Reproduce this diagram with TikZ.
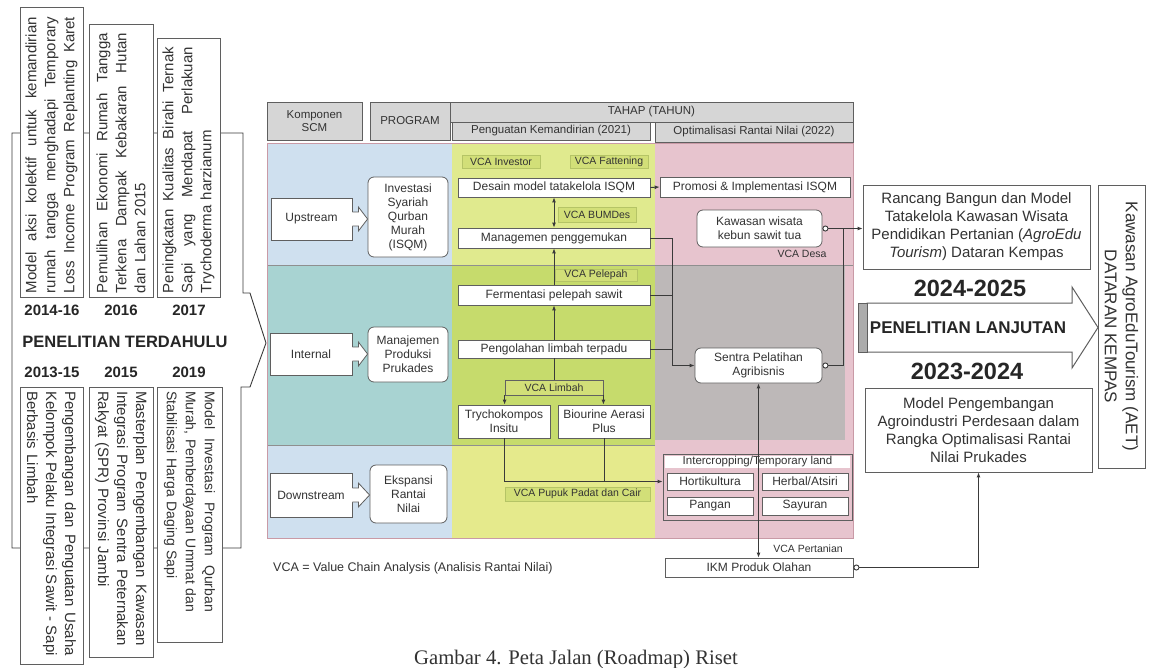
\documentclass[tikz,border=0pt]{standalone}
\usepackage{fontspec}
\setmainfont{Liberation Sans}
\newfontfamily\capfont{Liberation Serif}
\usetikzlibrary{arrows.meta,calc}
\definecolor{txt}{HTML}{333333}
\definecolor{bord}{HTML}{5F5F5F}
\definecolor{lin}{HTML}{3A3A3A}
\definecolor{hdr}{HTML}{D6D6D6}
\definecolor{lblue}{HTML}{CFE0EF}
\definecolor{tealc}{HTML}{A8D3D2}
\definecolor{gA}{HTML}{E0EA8E}
\definecolor{gB}{HTML}{C6DB6C}
\definecolor{gC}{HTML}{E5EA8C}
\definecolor{pinkc}{HTML}{E7C4CE}
\definecolor{grayc}{HTML}{BDB8B8}
\definecolor{lab}{HTML}{D2DF78}
\definecolor{labd}{HTML}{B5C466}
\definecolor{tbord}{HTML}{C99AA6}
\newcommand\jline[2]{\makebox[#1][s]{\spaceskip=0pt\xspaceskip=0pt\relax #2}}
\newcommand\lline[2]{\makebox[#1][l]{#2}}
\newcommand\myblockarrow[2]{%
  \fill[white] ($(#1.east)+(-1.5,-7)$) -- ($(#1.east)+(6,-7)$) -- ($(#1.east)+(6,-12)$) -- (#2.west |- #1.east) -- ($(#1.east)+(6,12)$) -- ($(#1.east)+(6,7)$) -- ($(#1.east)+(-1.5,7)$) -- cycle;
  \draw[draw=bord, line width=0.8pt, line join=miter] ($(#1.east)+(0,-7)$) -- ($(#1.east)+(6,-7)$) -- ($(#1.east)+(6,-12)$) -- (#2.west |- #1.east) -- ($(#1.east)+(6,12)$) -- ($(#1.east)+(6,7)$) -- ($(#1.east)+(0,7)$);}
\tikzset{
  sz/.style 2 args={minimum width=#1, minimum height=#2},
  txtbase/.style={font=\fontsize{12}{14}\selectfont, text=txt, align=center, inner sep=1pt},
  wbox/.style={txtbase, draw=bord, fill=white, line width=0.8pt},
  rbox/.style={wbox, rounded corners=6pt},
  hbox/.style={txtbase, draw=bord, fill=hdr, line width=0.8pt, font=\fontsize{11.5}{13}\selectfont},
  vca/.style={font=\fontsize{10.5}{12}\selectfont, text=txt, fill=lab, draw=labd, line width=0.5pt, inner sep=0pt},
  vcat/.style={font=\fontsize{10.5}{12}\selectfont, text=txt, inner sep=0pt},
  lbox/.style={draw=bord, fill=white, line width=0.9pt, font=\fontsize{15}{19}\selectfont, text=txt, inner sep=4pt},
  conn/.style={draw=lin, line width=0.9pt},
  yr/.style={font=\bfseries\fontsize{15}{16}\selectfont, text=black!85, inner sep=0pt},
  yrbig/.style={font=\bfseries\fontsize{23.5}{25}\selectfont, text=black!85, inner sep=0pt},
  >={Latex[length=5pt,width=4pt]}
}
\begin{document}
\begin{tikzpicture}[x=1pt,y=-1pt]
\useasboundingbox (0,0) rectangle (1151,667);
\clip (0,0) rectangle (1151,667);
\fill[white] (0,0) rectangle (1151,667);

% ---------- left: previous research ----------
\coordinate (tin) at (266,343);
\draw[conn] (tin) -- (250,293) -- (243,293) -- (243,133) -- (12,133) -- (12,548) -- (241,548) -- (241,387) -- (250,387) -- cycle;

\node[lbox, rotate=90, sz={290pt}{63pt}, text width=282pt, align=left] (p1) at (51.5,152)
  {\jline{276pt}{Model aksi kolektif untuk kemandirian}\\\jline{276pt}{rumah tangga menghadapi Temporary}\\\jline{276pt}{Loss Income Program Replanting Karet}};
\node[lbox, rotate=90, sz={273pt}{64pt}, text width=265pt, align=left] (p2) at (121,160.5)
  {\jline{260pt}{Pemulihan Ekonomi Rumah Tangga}\\\jline{260pt}{Terkena Dampak Kebakaran Hutan}\\\lline{260pt}{dan Lahan 2015}};
\node[lbox, rotate=90, sz={259pt}{63pt}, text width=251pt, align=left] (p3) at (188.5,167.5)
  {\jline{246pt}{Peningkatan Kualitas Birahi Ternak}\\\jline{246pt}{Sapi yang Mendapat Perlakuan}\\\lline{246pt}{Trychoderma harzianum}};

\node[lbox, rotate=-90, sz={277pt}{63pt}, text width=269pt, align=left] (p4) at (51.5,525.5)
  {\jline{265pt}{Pengembangan dan Penguatan Usaha}\\\jline{265pt}{Kelompok Pelaku Integrasi Sawit - Sapi}\\\lline{265pt}{Berbasis Limbah}};
\node[lbox, rotate=-90, sz={270pt}{64pt}, text width=262pt, align=left] (p5) at (121,522)
  {\jline{255pt}{Masterplan Pengembangan Kawasan}\\\jline{255pt}{Integrasi Program Sentra Peternakan}\\\lline{255pt}{Rakyat (SPR) Provinsi Jambi}};
\node[lbox, rotate=-90, sz={255pt}{65pt}, text width=247pt, align=left, font=\fontsize{14}{19}\selectfont] (p6) at (189.5,514.5)
  {\jline{221pt}{Model Investasi Program Qurban}\\\jline{221pt}{Murah, Pemberdayaan Ummat dan}\\\lline{221pt}{Stabilisasi Harga Daging Sapi}};

\node[yr] (y1) at (52,310) {2014-16};
\node[yr] (y2) at (121,310) {2016};
\node[yr] (y3) at (189,310) {2017};
\node[yr, font=\bfseries\fontsize{16.5}{18}\selectfont] (ptd) at (125,342) {PENELITIAN TERDAHULU};
\node[yr] (y4) at (52,372) {2013-15};
\node[yr] (y5) at (121,372) {2015};
\node[yr] (y6) at (189,372) {2019};

% ---------- table backgrounds ----------
\fill[lblue] (267,143) rectangle (452,265);
\fill[tealc] (267,265) rectangle (452,445);
\fill[lblue] (267,445) rectangle (452,538);
\fill[gA] (452,143) rectangle (655,265);
\fill[gB] (452,265) rectangle (655,445);
\fill[gC] (452,445) rectangle (655,538);
\fill[pinkc] (655,143) rectangle (853,538);
\fill[grayc] (655,265) rectangle (845,440);
\draw[draw=bord!70, line width=0.7pt] (267,265) -- (853,265);
\draw[draw=bord!70, line width=0.7pt] (267,445) -- (655,445);
\draw[draw=tbord, line width=1pt] (267,143) rectangle (853,538);

% headers
\node[hbox, sz={95pt}{38pt}] (hk) at (314.5,121) {Komponen\\SCM};
\node[hbox, sz={80pt}{38pt}] (hp) at (410,121) {PROGRAM};
\node[hbox, sz={403pt}{20pt}] (ht) at (651.5,112) {TAHAP (TAHUN)};
\node[hbox, sz={198pt}{18pt}] (h1) at (551,131) {Penguatan Kemandirian (2021)};
\node[hbox, sz={198pt}{20pt}] (h2) at (754,132) {Optimalisasi Rantai Nilai (2022)};

% left column
\node[wbox, sz={81pt}{42pt}] (up) at (311.5,219) {Upstream};
\node[rbox, sz={80pt}{80pt}] (isqm) at (408,217) {Investasi\\Syariah\\Qurban\\Murah\\(ISQM)};
\node[wbox, sz={82pt}{42pt}] (int) at (311,354) {Internal};
\node[rbox, sz={80pt}{55pt}] (mpp) at (408,354.5) {Manajemen\\Produksi\\Prukades};
\node[wbox, sz={82pt}{44pt}] (down) at (311,495) {Downstream};
\node[rbox, sz={77pt}{58pt}] (erm) at (408.5,494) {Ekspansi\\Rantai\\Nilai};
\myblockarrow{up}{isqm}
\myblockarrow{int}{mpp}
\myblockarrow{down}{erm}

% middle column
\node[vca, sz={78pt}{13pt}] (vinv) at (501,161.5) {VCA Investor};
\node[vca, sz={78pt}{13pt}] (vfat) at (609,161.5) {VCA Fattening};
\node[wbox, sz={192pt}{19pt}] (desain) at (554,187.5) {Desain model tatakelola ISQM};
\node[vca, sz={78pt}{15pt}] (vbum) at (597,214.5) {VCA BUMDes};
\node[wbox, sz={192pt}{20pt}] (mgmt) at (554,238) {Managemen penggemukan};
\node[vca, sz={82pt}{12pt}] (vpel) at (596,275) {VCA Pelepah};
\node[wbox, sz={192pt}{20pt}] (ferm) at (554,295) {Fermentasi pelepah sawit};
\node[wbox, sz={192pt}{18pt}] (pengol) at (554,349) {Pengolahan limbah terpadu};
\node[vca, draw=lin!80, line width=0.8pt, sz={98pt}{15pt}] (vlim) at (554,387.5) {VCA Limbah};
\node[wbox, sz={92pt}{33pt}] (trych) at (504,421.5) {Trychokompos\\Insitu};
\node[wbox, sz={92pt}{33pt}] (bio) at (604,421.5) {Biourine Aerasi\\Plus};
\node[vca, sz={145pt}{14pt}] (vpup) at (577.5,494) {VCA Pupuk Padat dan Cair};

% right column
\node[wbox, sz={190pt}{20pt}] (promosi) at (755,187) {Promosi \& Implementasi ISQM};
\node[rbox, sz={125pt}{37pt}] (kawasan) at (759.5,228.5) {Kawasan wisata\\kebun sawit tua};
\node[vcat] (vdesa) at (802,254) {VCA Desa};
\node[rbox, sz={127pt}{35pt}] (sentra) at (758.5,365.5) {Sentra Pelatihan\\Agribisnis};
\node[draw=bord, line width=0.8pt, sz={189pt}{66pt}] (icrop) at (757.5,487) {};
\node[fill=white, inner sep=0pt, sz={185pt}{12pt}, anchor=north, font=\fontsize{11.5}{12}\selectfont, text=txt] (ichead) at ($(icrop.north)+(0,2)$) {Intercropping/Temporary land};
\node[wbox, sz={86pt}{17pt}] (hort) at (710,481.5) {Hortikultura};
\node[wbox, sz={86pt}{17pt}] (herb) at (805,481.5) {Herbal/Atsiri};
\node[wbox, sz={86pt}{18pt}] (pangan) at (710,506) {Pangan};
\node[wbox, sz={86pt}{18pt}] (sayur) at (805,506) {Sayuran};
\node[vcat] (vpert) at (808,549) {VCA Pertanian};
\node[wbox, sz={188pt}{19pt}] (ikm) at (759,567.5) {IKM Produk Olahan};
\node[txtbase, anchor=west, font=\fontsize{12.5}{14}\selectfont] (note) at (272,568) {VCA = Value Chain Analysis (Analisis Rantai Nilai)};

% right side
\node[wbox, sz={227pt}{84pt}, font=\fontsize{15}{18}\selectfont] (rb) at (976.5,227)
  {Rancang Bangun dan Model\\Tatakelola Kawasan Wisata\\Pendidikan Pertanian (\textit{AgroEdu}\\\textit{Tourism}) Dataran Kempas};
\node[yrbig] (y2425) at (970,288) {2024-2025};
\filldraw[fill=white, draw=bord, line width=1pt, line join=miter] (867,303) -- (1072,303) -- (1072,287) -- (1098,327.5) -- (1072,368) -- (1072,352) -- (867,352) -- cycle;
\filldraw[fill=gray!65, draw=bord, line width=1pt] (858,303) rectangle (867,352);
\node[yr, font=\bfseries\fontsize{17}{18}\selectfont] (lanjut) at (968,327.5) {PENELITIAN LANJUTAN};
\node[yrbig] (y2324) at (967,371) {2023-2024};
\node[wbox, sz={227pt}{84pt}, font=\fontsize{15}{18}\selectfont] (mp) at (978.5,430)
  {Model Pengembangan\\Agroindustri Perdesaan dalam\\Rangka Optimalisasi Rantai\\Nilai Prukades};
\node[wbox, rotate=-90, sz={283pt}{47pt}, font=\fontsize{17}{21}\selectfont] (aet) at (1121.5,326.5)
  {Kawasan AgroEduTourism (AET)\\DATARAN KEMPAS};

% ---------- connectors ----------
\draw[conn, <->] (desain.south) -- (mgmt.north);
\draw[conn, ->] (ferm.north) -- (mgmt.south);
\draw[conn, ->] (pengol.north) -- (ferm.south);
\draw[conn] (pengol.south) -- (vlim.north);
\draw[conn, ->] (vlim.south west) -- (vlim.south west |- trych.north);
\draw[conn, ->] (vlim.south east) -- (vlim.south east |- bio.north);
\draw[conn, ->] (trych.south) |- (icrop.west |- hort.west);
\draw[conn] (bio.south) -- (bio.south |- hort.west);
\draw[conn, ->] (mgmt.east) -- ++(22,0) |- (sentra.west);
\draw[conn] (ferm.east) -- ++(22,0);
\draw[conn] (pengol.east) -- ++(22,0);
\draw[conn, ->] (desain.east) -- (promosi.west);
\draw[conn, arrows={Circle[fill=white,length=6pt]-Latex[length=5pt,width=4pt]}] (kawasan.east) -- (kawasan.east -| rb.west);
\draw[conn, arrows={Circle[fill=white,length=6pt]-}] (sentra.east) -| ($(kawasan.east)+(21,0)$);
\draw[conn, <->] (sentra.south) -- (sentra.south |- ikm.north);
\draw[conn, arrows={Circle[fill=white,length=6pt]-Latex[length=5pt,width=4pt]}] (ikm.east) -| (mp.south);

% caption
\node[anchor=base, font=\capfont\fontsize{20.7}{24}\selectfont, text=black!80, inner sep=0pt] (cap) at (576,664) {Gambar 4. Peta Jalan (Roadmap) Riset};
\end{tikzpicture}
\end{document}
